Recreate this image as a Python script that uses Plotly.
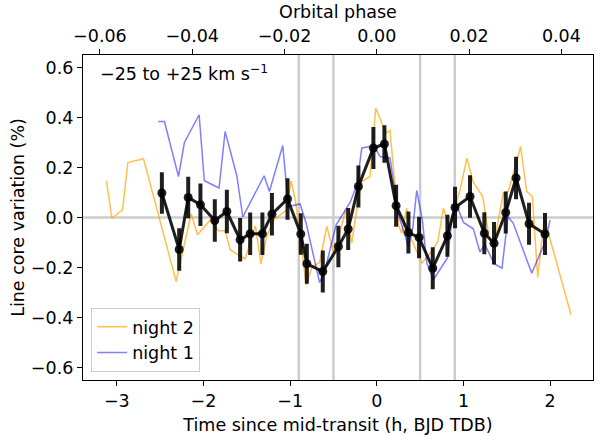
import plotly.graph_objects as go

# orbital period of the planet in hours (used for the top phase axis)
P_HOURS = 53.25

# night 2 (orange)
t_n2 = [-3.12, -3.056, -2.934, -2.872, -2.692, -2.315, -2.142, -2.069, -1.92, -1.827,
        -1.75, -1.69, -1.52, -1.40, -1.338, -1.27, -1.19, -1.038, -0.99, -0.94,
        -0.885, -0.815, -0.75, -0.66, -0.577, -0.5, -0.423, -0.36, -0.288, -0.238,
        -0.173, -0.077, -0.012, 0.104, 0.153, 0.25, 0.288, 0.346, 0.404, 0.519,
        0.634, 0.704, 0.768, 0.834, 0.903, 0.96, 1.04, 1.114, 1.222, 1.295,
        1.345, 1.46, 1.518, 1.66, 1.73, 1.795, 1.857, 1.933, 2.241]
v_n2 = [0.147, -0.003, 0.031, 0.22, 0.235, -0.256, 0.015, -0.069, -0.01, -0.053,
        -0.053, -0.13, -0.166, -0.033, -0.185, -0.076, -0.01, 0.031, 0.147, 0.07,
        -0.069, -0.27, -0.2, -0.18, -0.036, -0.14, -0.056, 0.03, -0.102, 0.018,
        0.144, 0.164, 0.438, 0.338, 0.348, -0.03, -0.063, 0.037, -0.09, -0.182,
        -0.136, -0.096, 0.037, -0.036, 0.044, 0.11, 0.237, 0.141, 0.084, -0.076,
        -0.116, 0.098, 0.104, 0.284, 0.104, 0.084, -0.24, -0.003, -0.389]

# night 1 (blue)
t_n1 = [-2.52, -2.45, -2.288, -2.22, -2.05, -1.99, -1.82, -1.75, -1.615, -1.546,
        -1.3, -1.239, -1.085, -1.02, -0.885, -0.815, -0.66, -0.608, -0.47, -0.385,
        -0.308, -0.23, -0.173, -0.077, -0.012, 0.038, 0.153, 0.203, 0.25, 0.365,
        0.415, 0.461, 0.526, 0.577, 0.653, 0.815, 0.895, 1.0, 1.114, 1.19,
        1.249, 1.355, 1.445, 1.514, 1.575, 1.788, 1.94, 2.0]
v_n1 = [0.384, 0.384, 0.164, 0.3, 0.411, 0.147, 0.118, 0.344, 0.167, 0.002,
        0.167, 0.104, 0.288, 0.044, 0.054, -0.023, -0.26, -0.225, -0.03, 0.018,
        0.06, 0.13, 0.278, 0.284, 0.274, 0.244, 0.238, 0.118, 0.011, -0.116,
        -0.042, 0.108, -0.009, -0.182, -0.249, -0.162, 0.074, -0.02, -0.045, -0.138,
        -0.109, -0.185, -0.203, 0.004, -0.023, -0.223, -0.1, -0.01]

# binned average with errors (black)
t_bin = [-2.48, -2.28, -2.176, -2.035, -1.869, -1.73, -1.577, -1.461, -1.32, -1.21,
         -1.03, -0.877, -0.807, -0.623, -0.443, -0.33, -0.212, -0.039, 0.088, 0.223,
         0.365, 0.488, 0.646, 0.815, 0.903, 1.076, 1.241, 1.353, 1.488, 1.607,
         1.757, 1.941]
v_bin = [0.098, -0.128, 0.08, 0.051, -0.012, 0.024, -0.089, -0.065, -0.065, 0.013,
         0.074, -0.066, -0.185, -0.216, -0.116, -0.046, 0.124, 0.278, 0.294, 0.047,
         -0.06, -0.08, -0.203, -0.073, 0.04, 0.084, -0.063, -0.103, 0.02, 0.158,
         -0.025, -0.066]
e_bin = [0.083, 0.085, 0.083, 0.085, 0.085, 0.087, 0.087, 0.085, 0.085, 0.085,
         0.083, 0.083, 0.08, 0.084, 0.083, 0.084, 0.084, 0.084, 0.075, 0.084,
         0.084, 0.083, 0.084, 0.084, 0.083, 0.085, 0.084, 0.085, 0.084, 0.085,
         0.084, 0.084]

contacts = [-0.9, -0.5, 0.5, 0.9]

x_range = [-3.39, 2.495]
y_range = [-0.65, 0.65]

FONT = "DejaVu Sans"
fs = 17.5

fig = go.Figure()

for c in contacts:
    fig.add_vline(x=c, line_color="#cccccc", line_width=2.5, layer="below")
fig.add_hline(y=0, line_color="#cccccc", line_width=2.5, layer="below")

fig.add_trace(go.Scatter(x=t_n2, y=v_n2, mode="lines", name="night 2",
                         line=dict(color="rgba(255,165,0,0.7)", width=1.5)))
fig.add_trace(go.Scatter(x=t_n1, y=v_n1, mode="lines", name="night 1",
                         line=dict(color="rgba(0,0,255,0.5)", width=1.5)))
fig.add_trace(go.Scatter(x=t_bin, y=v_bin, mode="lines+markers", showlegend=False,
                         line=dict(color="rgba(0,0,0,0.88)", width=3),
                         marker=dict(color="rgba(0,0,0,0.88)", size=9),
                         error_y=dict(type="data", array=e_bin, width=0,
                                      thickness=4, color="rgba(0,0,0,0.88)")))

# invisible trace for the top (phase) axis
fig.add_trace(go.Scatter(x=[x_range[0] / P_HOURS], y=[0], xaxis="x2", mode="markers",
                         marker=dict(opacity=0), showlegend=False, hoverinfo="skip"))

axis_common = dict(showline=True, linecolor="black", linewidth=1.3, ticks="outside",
                   ticklen=5, tickwidth=1.2, tickcolor="black", showgrid=False,
                   zeroline=False, automargin=False,
                   tickfont=dict(family=FONT, size=fs, color="black"))

fig.update_layout(
    width=598, height=436,
    margin=dict(l=83, r=5, t=55, b=56),
    plot_bgcolor="white", paper_bgcolor="white",
    font=dict(family=FONT, size=fs, color="black"),
    xaxis=dict(range=x_range, tickvals=[-3, -2, -1, 0, 1, 2], mirror=True,
               title=dict(text="Time since mid-transit (h, BJD TDB)", standoff=8,
                          font=dict(family=FONT, size=fs)),
               **axis_common),
    xaxis2=dict(range=[x_range[0] / P_HOURS, x_range[1] / P_HOURS], overlaying="x",
                side="top", anchor="y", tickvals=[-0.06, -0.04, -0.02, 0.0, 0.02, 0.04],
                tickformat=".2f",
                title=dict(text="Orbital phase", standoff=2, font=dict(family=FONT, size=fs)),
                **axis_common),
    yaxis=dict(range=y_range, tickvals=[-0.6, -0.4, -0.2, 0.0, 0.2, 0.4, 0.6],
               tickformat=".1f", mirror=True,
               title=dict(text="Line core variation (%)", standoff=1,
                          font=dict(family=FONT, size=fs)),
               **axis_common),
    legend=dict(x=0.016, y=0.025, xanchor="left", yanchor="bottom",
                bgcolor="rgba(255,255,255,0.8)", bordercolor="#cccccc", borderwidth=1,
                font=dict(family=FONT, size=fs), itemwidth=30, tracegroupgap=0),
    showlegend=True,
)

fig.add_annotation(text="\u221225 to +25 km s<sup>\u22121</sup>", xref="paper", yref="paper",
                   x=0.03, y=0.985, xanchor="left", yanchor="top", showarrow=False,
                   font=dict(family=FONT, size=fs, color="black"))

# the page body has a default margin; remove it so the figure sits at the corner
fig.write_html("out.html", config={"displayModeBar": False},
               post_script="document.body.style.margin='0';")
